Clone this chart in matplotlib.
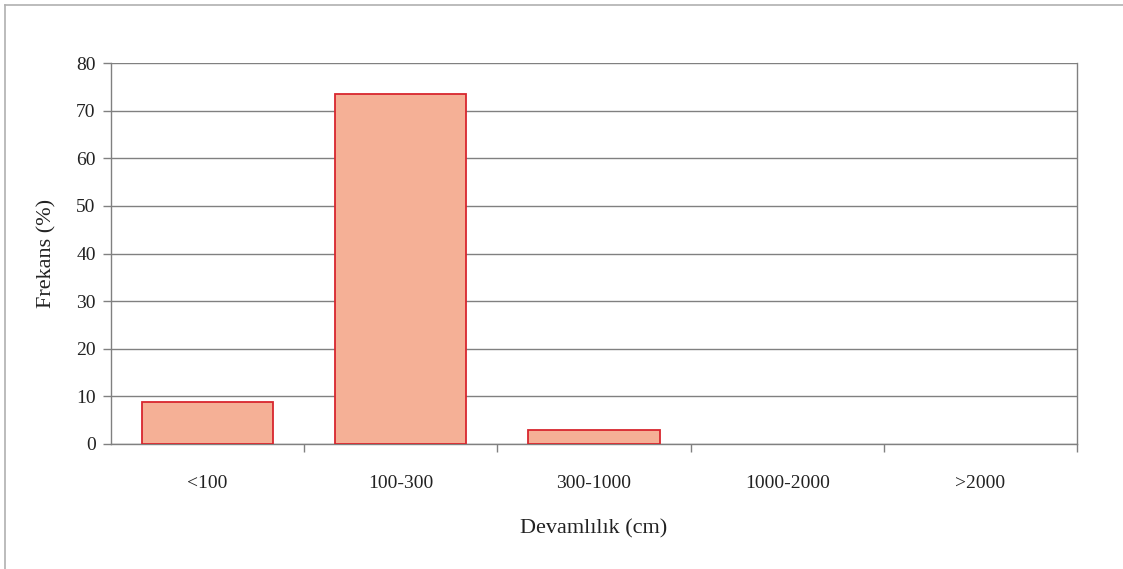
import matplotlib
matplotlib.use("Agg")
import matplotlib.pyplot as plt
from matplotlib.lines import Line2D

categories = ["<100", "100-300", "300-1000", "1000-2000", ">2000"]
frequencies = [8.8, 73.4, 3.0, 0.0, 0.0]
yticks = [0, 10, 20, 30, 40, 50, 60, 70, 80]

plt.rcParams["font.family"] = ["Liberation Serif", "DejaVu Serif"]

W, H = 1123, 569
fig = plt.figure(figsize=(W / 100, H / 100), dpi=100)
ax = fig.add_axes([111 / W, 1 - 444 / H, (1077 - 111) / W, (444 - 63) / H])

grid_c = "#808080"
x = list(range(len(categories)))
ax.bar([i for i, v in zip(x, frequencies) if v > 0],
       [v for v in frequencies if v > 0],
       width=0.68, color="#F5B096", edgecolor="#D8262E", linewidth=1.3, zorder=3)

ax.set_xlim(-0.5, len(categories) - 0.5)
ax.set_ylim(0, 80)
ax.set_yticks(yticks)
ax.yaxis.grid(True, color=grid_c, linewidth=1.0, zorder=0)
ax.set_axisbelow(True)

# category labels centred, tick marks at category boundaries
ax.set_xticks(x)
ax.set_xticklabels(categories)
ax.tick_params(axis="x", which="major", length=0, pad=22, labelsize=14, labelcolor="#222222")
ax.set_xticks([i + 0.5 for i in x], minor=True)
ax.tick_params(axis="x", which="minor", length=6, width=1.0, color=grid_c, direction="out")
ax.tick_params(axis="y", length=6, width=1.0, color=grid_c, direction="out",
               labelsize=14, labelcolor="#222222", pad=5)

for s in ax.spines.values():
    s.set_color(grid_c)
    s.set_linewidth(1.0)
ax.spines["top"].set_visible(False)

ax.set_xlabel("Devamlılık (cm)", fontsize=16, color="#222222", labelpad=20)
ax.set_ylabel("Frekans (%)", fontsize=16, color="#222222", labelpad=14)

# outer chart frame
fig.add_artist(Line2D([5 / W, 5 / W], [0, 1 - 5 / H], transform=fig.transFigure,
                      color="#b0b0b0", linewidth=1.2))
fig.add_artist(Line2D([5 / W, 1], [1 - 5 / H, 1 - 5 / H], transform=fig.transFigure,
                      color="#b0b0b0", linewidth=1.2))

fig.savefig("out.png", dpi=100, facecolor="white")
